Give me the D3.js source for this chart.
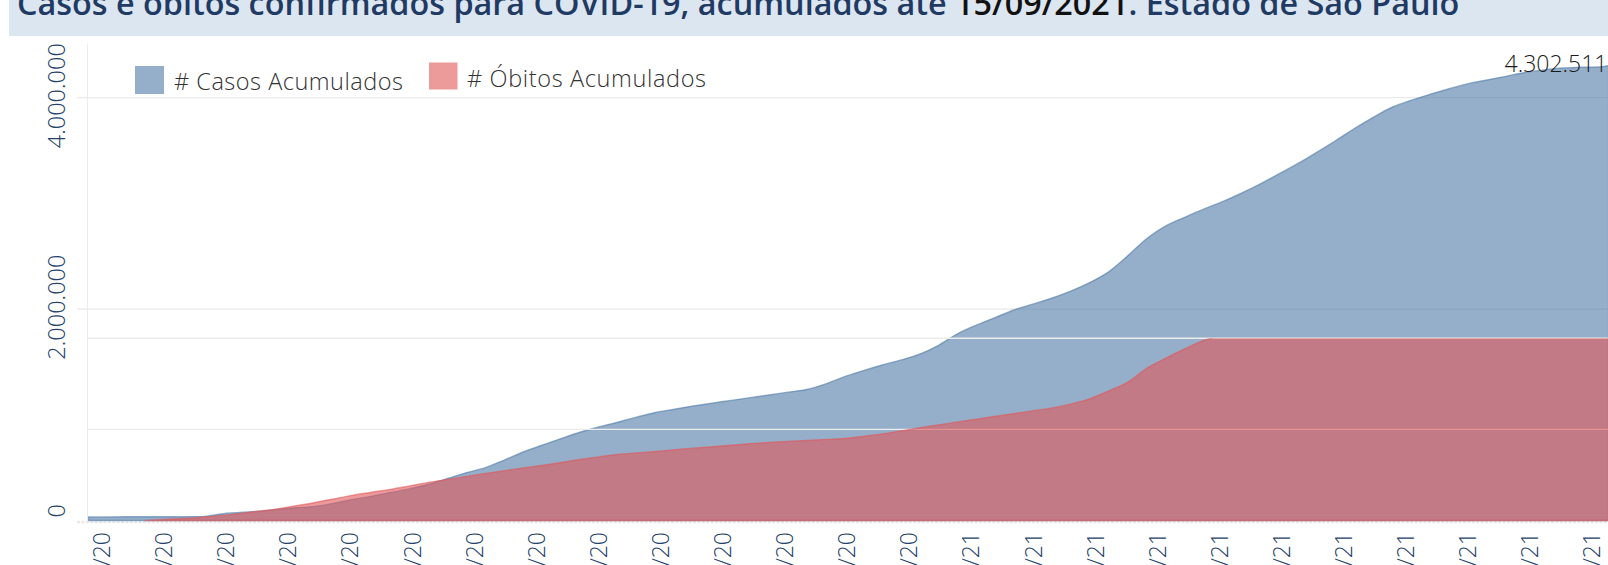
<!DOCTYPE html>
<html><head><meta charset="utf-8">
<script src="https://cdn.jsdelivr.net/npm/d3@7"></script>
<style>
html,body{margin:0;padding:0;background:#fff;overflow:hidden}
svg{display:block}
</style></head>
<body>
<svg id="chart" width="1608" height="565"></svg>
<script>
// ---------- DATA ----------
const dates = [
"2020-03-01","2020-03-08","2020-03-15","2020-03-22","2020-03-29","2020-04-05","2020-04-12","2020-04-19","2020-04-26",
"2020-05-03","2020-05-10","2020-05-17","2020-05-24","2020-05-31","2020-06-07","2020-06-14","2020-06-21","2020-06-28",
"2020-07-05","2020-07-12","2020-07-19","2020-07-26","2020-08-02","2020-08-09","2020-08-16","2020-08-23","2020-08-30",
"2020-09-06","2020-09-13","2020-09-20","2020-09-27","2020-10-04","2020-10-11","2020-10-18","2020-10-25","2020-11-01",
"2020-11-08","2020-11-15","2020-11-22","2020-11-29","2020-12-06","2020-12-13","2020-12-20","2020-12-27","2021-01-03",
"2021-01-10","2021-01-17","2021-01-24","2021-01-31","2021-02-07","2021-02-14","2021-02-21","2021-02-28","2021-03-07",
"2021-03-14","2021-03-21","2021-03-28","2021-04-04","2021-04-11","2021-04-18","2021-04-25","2021-05-02","2021-05-09",
"2021-05-16","2021-05-23","2021-05-30","2021-06-06","2021-06-13","2021-06-20","2021-06-27","2021-07-04","2021-07-11",
"2021-07-18","2021-07-25","2021-08-01","2021-08-08","2021-08-15","2021-08-22","2021-08-29","2021-09-05","2021-09-12",
"2021-09-15"];

const casosAcumulados = [
34000, 34000, 35000, 35000, 36000, 36000, 37000,
62000, 76000, 88000, 104000, 120000, 134000, 164000, 200000, 231000, 265000,
301000, 343000, 397000, 453000, 500000, 572000, 648000, 712000, 775000, 835000,
885000, 930000, 978000, 1022000, 1053000, 1083000, 1111000, 1136000, 1162000, 1187000,
1214000, 1239000, 1292000, 1361000, 1418000, 1471000, 1519000, 1575000, 1660000, 1768000,
1850000, 1922000, 1994000, 2049000, 2105000, 2173000, 2253000, 2355000, 2506000, 2668000,
2787000, 2868000, 2945000, 3016000, 3096000, 3184000, 3281000, 3378000, 3485000, 3595000,
3711000, 3817000, 3912000, 3977000, 4033000, 4085000, 4133000, 4167000, 4202000, 4238000,
4263000, 4281000, 4288000, 4292000,
4302511];

const obitosAcumulados = [
null, null, null, 0, 600, 1100, 1800,
2700, 3800, 5100, 6400, 8100, 9900, 11900, 13900, 15500, 17100,
19000, 20900, 22600, 24200, 25800, 27300, 28900, 30200, 31800, 33500,
34900, 36300, 37100, 37900, 38800, 39700, 40500, 41300, 42100, 42800,
43400, 43900, 44500, 45000, 46200, 47500, 49200, 50900, 52500, 54100,
55600, 57200, 58700, 60300, 61800, 64000, 66900, 71200, 76000, 83600,
89100, 94200, 98800, 102000, 106000, 110000, 113500, 117000, 120000, 123000,
126000, 128500, 131000, 133000, 135000, 136800, 138500, 140000, 141300, 142500,
143500, 144400, 145200, 145900,
146200];

const xTickLabels = ["06/03/20","29/03/20","21/04/20","14/05/20","06/06/20","29/06/20","22/07/20","14/08/20",
"06/09/20","29/09/20","22/10/20","14/11/20","07/12/20","30/12/20","22/01/21","14/02/21","09/03/21","01/04/21",
"24/04/21","17/05/21","09/06/21","02/07/21","25/07/21","17/08/21","09/09/21"];

const casosTicks = [0, 2000000, 4000000];
const obitosGridTicks = [50000, 100000];

const seriesNames = ["# Casos Acumulados", "# Óbitos Acumulados"];
const titleParts = ["Casos e óbitos confirmados para COVID-19, acumulados até ", "15/09/2021", ". Estado de São Paulo"];

// ---------- SETUP ----------
const svg = d3.select("#chart");
const parseISO = d3.timeParse("%Y-%m-%d");
const parseTick = d3.timeParse("%d/%m/%y");
const rows = dates.map((d, i) => ({date: parseISO(d), casos: casosAcumulados[i], obitos: obitosAcumulados[i]}));

const BLUE = "#4e79a7", RED = "#e15759", NAVY = "#24426b";
const left = 88.5, dayPx = 2.7;
const x0 = parseISO("2020-03-01"), x1 = parseISO("2021-09-15");
const x = d3.scaleTime().domain([x0, x1]).range([left, left + d3.timeDay.count(x0, x1) * dayPx]);
const yC = d3.scaleLinear().domain([0, 4000000]).range([520.5, 97.7]);
const yD = d3.scaleLinear().domain([0, 100000]).range([520.5, 338.3]);

const fmt = d3.formatLocale({decimal: ",", thousands: ".", grouping: [3], currency: ["R$", ""]}).format(",d");

// ---------- TITLE ----------
svg.append("rect").attr("x", 9).attr("y", 0).attr("width", 1608 - 9).attr("height", 36).attr("fill", "#dce6f1");
const title = svg.append("text").attr("x", 17).attr("y", 14.5)
  .style("font-family", "'Open Sans', 'Noto Sans', sans-serif").style("font-weight", 600).style("font-size", "29px");
titleParts.forEach((t, i) => title.append("tspan").text(t).attr("fill", i === 1 ? "#111" : "#1f3a63"));
const tw = title.node().getComputedTextLength();
title.style("font-size", (29 * 1443 / tw) + "px");

// ---------- DEFS ----------
const defs = svg.append("defs");
defs.append("clipPath").attr("id", "plotClip").append("rect")
  .attr("x", 88).attr("y", 40).attr("width", 1608 - 88 + 20).attr("height", 484);
defs.append("clipPath").attr("id", "obitosClip").append("rect")
  .attr("x", 88).attr("y", yD(100000)).attr("width", 1608 - 88 + 20).attr("height", 525 - yD(100000));

// ---------- AXIS / GRID ----------
svg.append("line").attr("x1", 87.5).attr("x2", 87.5).attr("y1", 44).attr("y2", 522)
  .attr("stroke", "#ececec").attr("stroke-width", 1);

svg.append("g").selectAll("line").data(casosTicks.filter(t => t > 0)).join("line")
  .attr("x1", 77).attr("x2", 1608).attr("y1", d => yC(d)).attr("y2", d => yC(d))
  .attr("stroke", "#e9e9e9").attr("stroke-width", 1.3);

svg.append("line").attr("x1", 77).attr("x2", 1608).attr("y1", 522).attr("y2", 522)
  .attr("stroke", "#e8e8e8").attr("stroke-width", 2.6).attr("stroke-dasharray", "3,1.4");

// ---------- AREAS ----------
const plot = svg.append("g").attr("clip-path", "url(#plotClip)");

const areaC = d3.area().x(d => x(d.date)).y0(yC(0)).y1(d => yC(d.casos)).curve(d3.curveMonotoneX);
plot.append("path").datum(rows).attr("d", areaC)
  .attr("fill", BLUE).attr("fill-opacity", 0.6)
  .attr("stroke", BLUE).attr("stroke-opacity", 0.6).attr("stroke-width", 1.4).attr("stroke-linejoin", "round");

plot.append("g").selectAll("line").data(obitosGridTicks).join("line")
  .attr("x1", 88).attr("x2", 1608).attr("y1", d => yD(d)).attr("y2", d => yD(d))
  .attr("stroke", "#ececec").attr("stroke-width", 1.4);

const areaD = d3.area().defined(d => d.obitos != null)
  .x(d => x(d.date)).y0(yD(0)).y1(d => yD(d.obitos)).curve(d3.curveMonotoneX);
plot.append("g").attr("clip-path", "url(#obitosClip)").append("path").datum(rows).attr("d", areaD)
  .attr("fill", RED).attr("fill-opacity", 0.6)
  .attr("stroke", RED).attr("stroke-opacity", 0.6).attr("stroke-width", 1.4).attr("stroke-linejoin", "round");

// ---------- Y AXIS LABELS ----------
const lblFont = "'Open Sans', 'Noto Sans', sans-serif";
svg.append("g").selectAll("text").data(casosTicks).join("text")
  .attr("transform", d => d === 0 ? `translate(56.5,${yC(d) - 3}) rotate(-90)` : `translate(56.5,${yC(d) - 2}) rotate(-90)`)
  .attr("text-anchor", d => d === 0 ? "start" : "middle")
  .attr("dy", "0.35em")
  .style("font-family", lblFont).style("font-weight", 300).style("font-size", "23.5px")
  .attr("fill", NAVY)
  .text(d => fmt(d));

// ---------- X AXIS LABELS ----------
svg.append("g").selectAll("text").data(xTickLabels).join("text")
  .attr("transform", d => `translate(${x(parseTick(d))},532) rotate(-90)`)
  .attr("text-anchor", "end").attr("dy", "0.35em")
  .style("font-family", lblFont).style("font-weight", 300).style("font-size", "23px")
  .attr("fill", NAVY)
  .text(d => d);

// ---------- LEGEND ----------
const legend = [
  {name: seriesNames[0], color: BLUE, rx: 135, ry: 66, rw: 29, rh: 28, tx: 174, ty: 90, tl: 229},
  {name: seriesNames[1], color: RED, rx: 429, ry: 62.5, rw: 28.5, rh: 27, tx: 467, ty: 86.5, tl: 239}
];
const lg = svg.append("g");
lg.selectAll("rect").data(legend).join("rect")
  .attr("x", d => d.rx).attr("y", d => d.ry).attr("width", d => d.rw).attr("height", d => d.rh)
  .attr("fill", d => d.color).attr("fill-opacity", 0.6);
lg.selectAll("text").data(legend).join("text")
  .attr("x", d => d.tx).attr("y", d => d.ty)
  .attr("textLength", d => d.tl).attr("lengthAdjust", "spacing")
  .style("font-family", lblFont).style("font-weight", 300).style("font-size", "23.5px")
  .attr("fill", "#333").text(d => d.name);

// ---------- LAST VALUE LABEL ----------
const last = rows[rows.length - 1];
svg.append("text")
  .attr("x", x(last.date) - 104).attr("y", yC(last.casos) + 6.5)
  .style("font-family", lblFont).style("font-weight", 300).style("font-size", "23px")
  .attr("fill", "#1a1a1a")
  .text(fmt(last.casos));
</script>
</body></html>
